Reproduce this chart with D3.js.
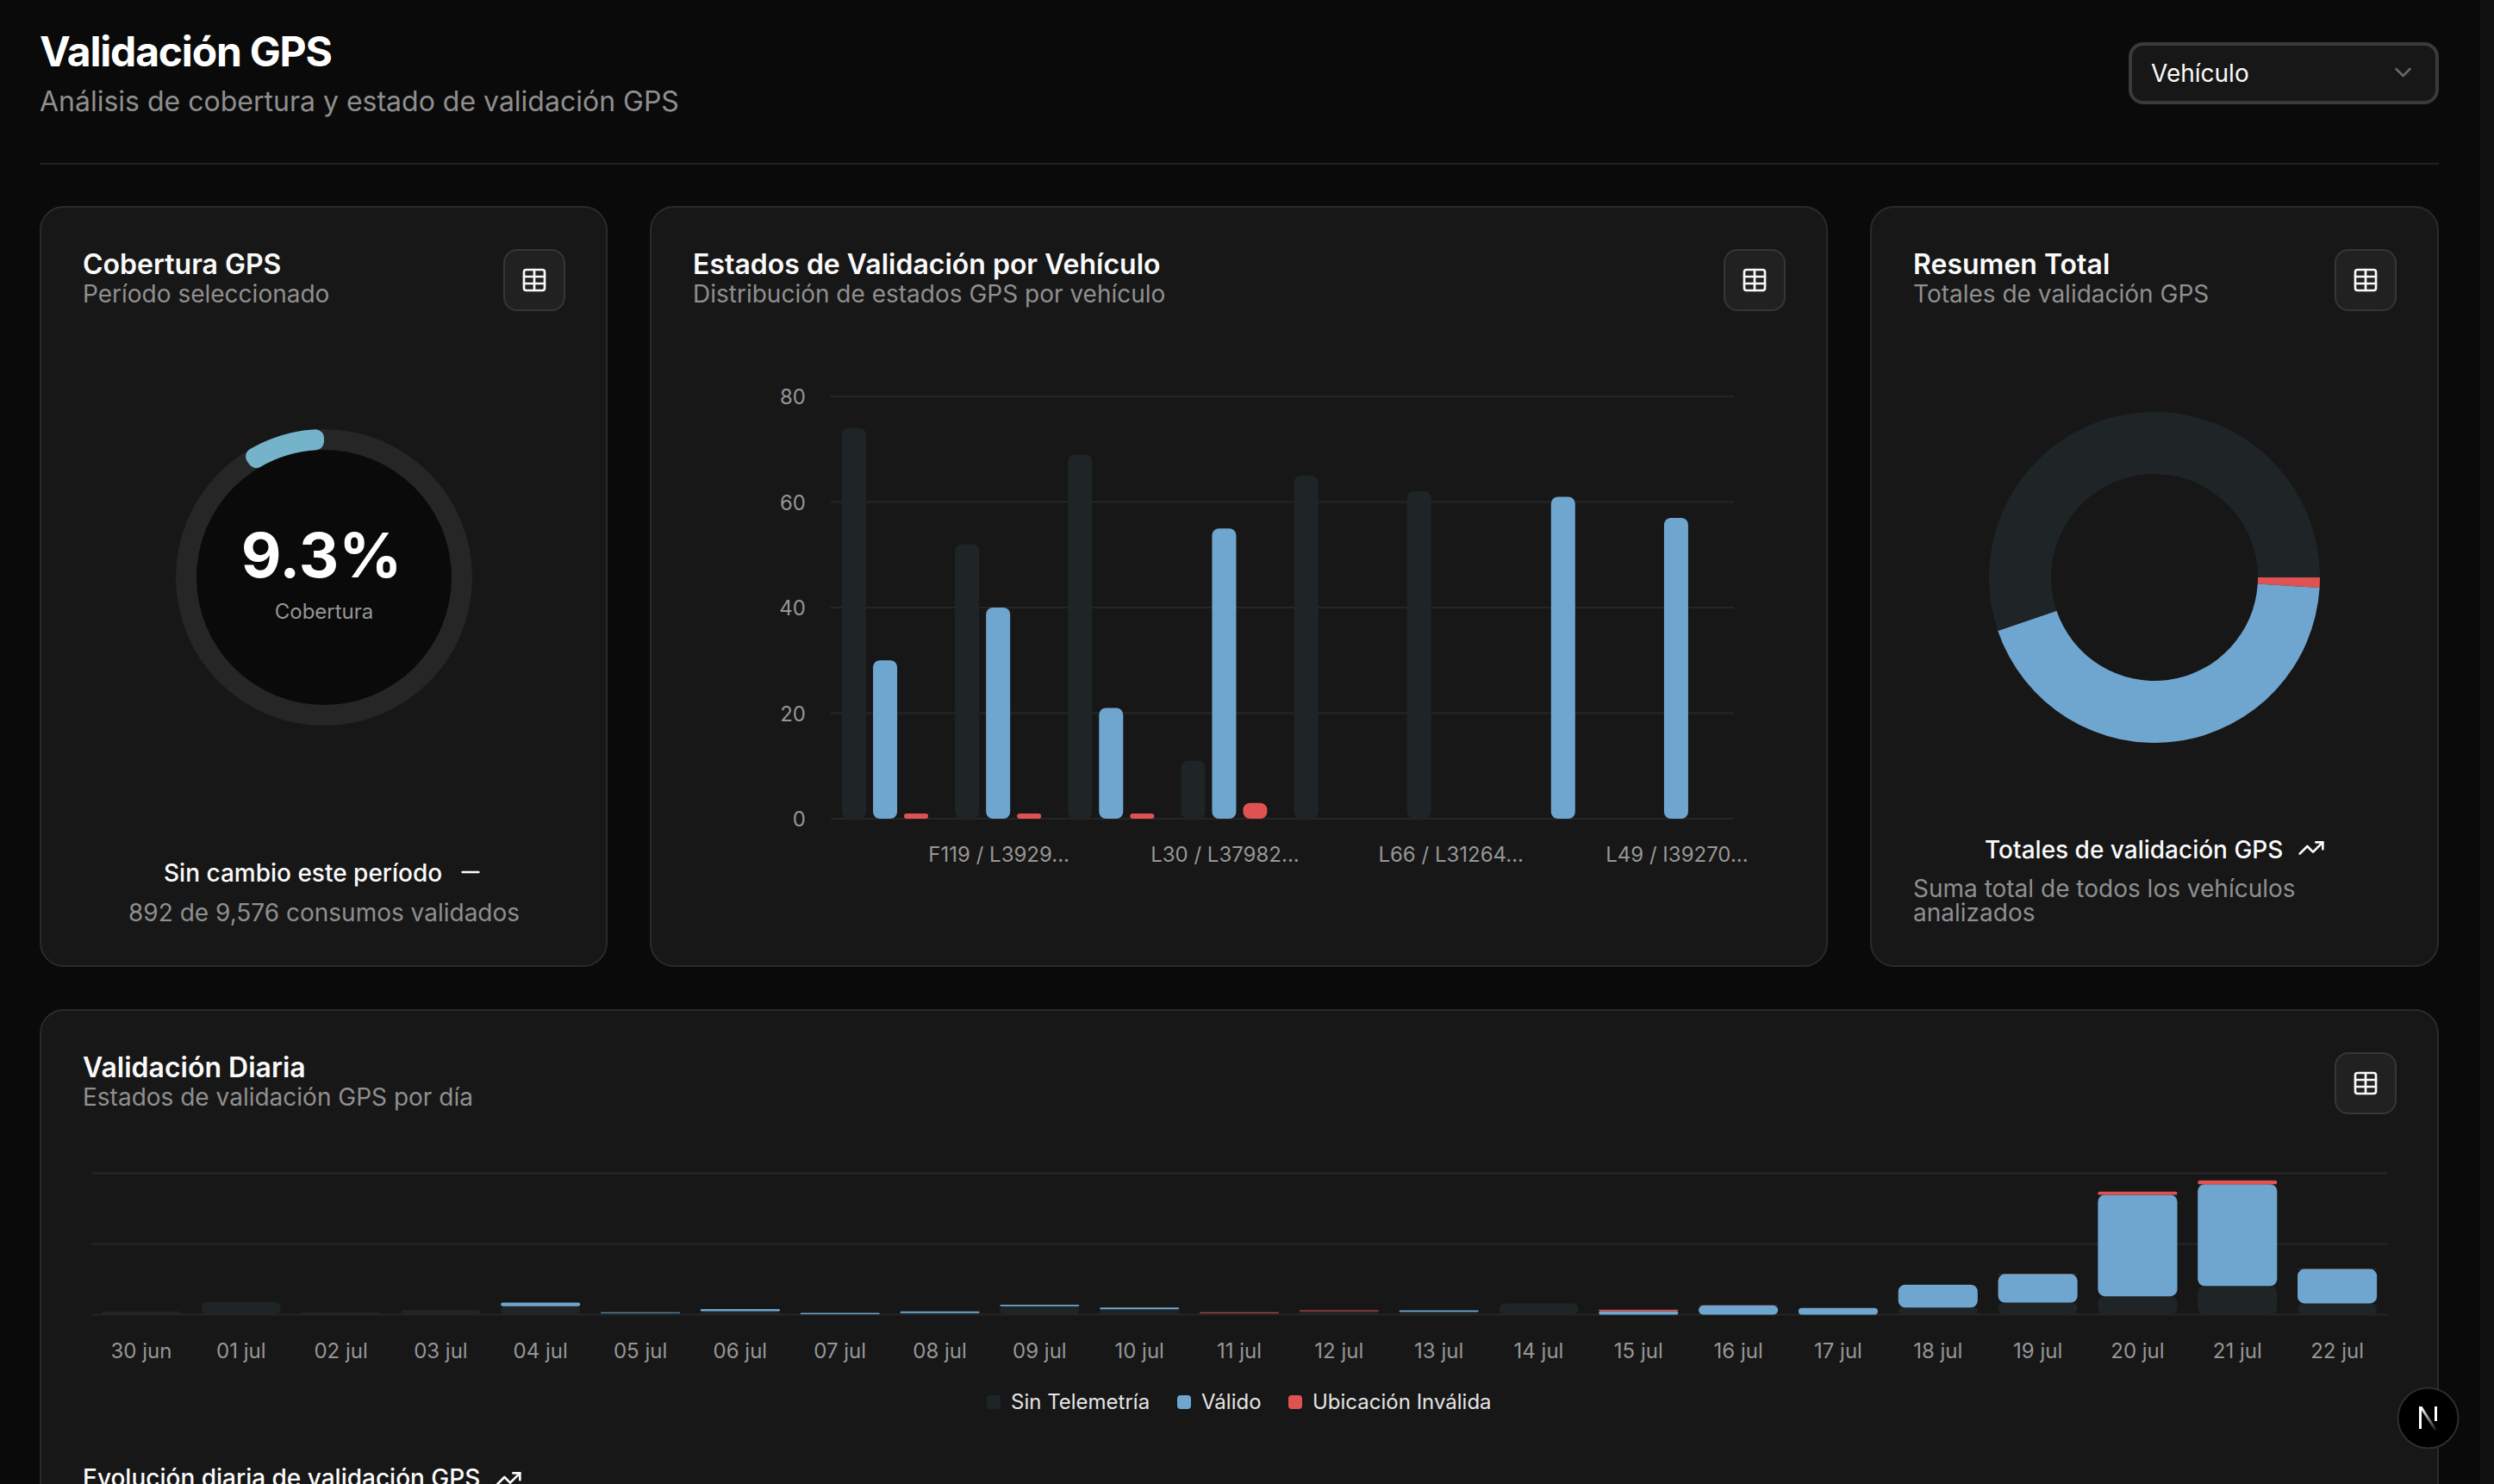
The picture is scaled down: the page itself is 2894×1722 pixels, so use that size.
<!DOCTYPE html>
<html lang="es">
<head>
<meta charset="utf-8">
<title>Validación GPS</title>
<script src="https://cdn.jsdelivr.net/npm/d3@7"></script>
<style>
  html, body { margin: 0; padding: 0; background: #0a0a0a; overflow: hidden; }
  svg { display: block; }
  text { font-family: Inter, "Noto Sans", sans-serif; }
</style>
</head>
<body>
<div id="chart"></div>
<script>
// data
const vehicles = ["", "F119 / L3929...", "", "L30 / L37982...", "", "L66 / L31264...", "", "L49 / I39270..."];
const vehicleSinTelemetria = [74, 52, 69, 11, 65, 62, 0, 0];
const vehicleValido = [30, 40, 21, 55, 0, 0, 61, 57];
const vehicleInvalida = [1, 1, 1, 3, 0, 0, 0, 0];
const vehicleTicks = [0, 20, 40, 60, 80];

const days = ["30 jun", "01 jul", "02 jul", "03 jul", "04 jul", "05 jul", "06 jul", "07 jul", "08 jul", "09 jul", "10 jul", "11 jul",
    "12 jul", "13 jul", "14 jul", "15 jul", "16 jul", "17 jul", "18 jul", "19 jul", "20 jul", "21 jul", "22 jul"];
const daySinTelemetria = [9, 36, 7, 13, 24, 4, 10, 1, 4, 24, 15, 4, 10, 8, 32, 0, 0, 0, 20, 34, 52, 81, 32];
const dayValido = [0, 0, 0, 0, 10, 3, 6, 4, 5, 4, 5, 0, 0, 4, 0, 10, 26, 19, 65, 81, 287, 288, 97];
const dayInvalida = [0, 0, 0, 0, 0, 0, 0, 0, 0, 0, 0, 3, 2, 0, 0, 4, 1, 0, 0, 1, 9, 11, 1];
const dayTicks = [0, 200, 400];

const coverage = 9.3;
const validated = 892;
const consumed = 9576;

const colors = { gray: "#1f2427", blue: "#6fa6cf", red: "#e05252", teal: "#75b3cb" };
const muted = "#8f8f8f";
const axisColor = "#969696";
const gridColor = "#262626";

const width = 2894, height = 1722;

const svg = d3.select("#chart").append("svg")
    .attr("width", width)
    .attr("height", height)
    .attr("viewBox", [0, 0, width, height]);

svg.append("rect").attr("width", width).attr("height", height).attr("fill", "#0a0a0a");
svg.append("rect").attr("x", 2878).attr("width", 16).attr("height", height).attr("fill", "#111111");

function label(x, y, str, size, fill, weight, anchor, spacing) {
    return svg.append("text")
        .attr("x", x).attr("y", y)
        .attr("font-size", size)
        .attr("font-weight", weight || 400)
        .attr("fill", fill)
        .attr("text-anchor", anchor || "start")
        .attr("letter-spacing", spacing || 0)
        .text(str);
}

// lucide style icons, 24 unit box drawn at 32px
function icon(x, y, paths, stroke, strokeWidth) {
    const g = svg.append("g")
        .attr("transform", `translate(${x},${y}) scale(1.3333)`)
        .attr("fill", "none")
        .attr("stroke", stroke)
        .attr("stroke-width", strokeWidth || 2)
        .attr("stroke-linecap", "round")
        .attr("stroke-linejoin", "round");
    paths.forEach(d => g.append("path").attr("d", d));
}

function card(x, y, w, h, title, sub, titleY, subY) {
    svg.append("rect")
        .attr("x", x + 1).attr("y", y + 1)
        .attr("width", w - 2).attr("height", h - 2)
        .attr("rx", 27)
        .attr("fill", "#171717")
        .attr("stroke", "#2a2a2a")
        .attr("stroke-width", 2);
    label(x + 50, titleY, title, 32, "#fafafa", 600);
    label(x + 50, subY, sub, 28, muted, 400);

    // table button
    const bx = x + w - 121, by = y + 50;
    svg.append("rect")
        .attr("x", bx + 1).attr("y", by + 1)
        .attr("width", 70).attr("height", 70)
        .attr("rx", 15)
        .attr("fill", "#212121")
        .attr("stroke", "#363636")
        .attr("stroke-width", 2);
    icon(bx + 20, by + 20, ["M5 3h14a2 2 0 0 1 2 2v14a2 2 0 0 1-2 2H5a2 2 0 0 1-2-2V5a2 2 0 0 1 2-2z", "M12 3v18", "M3 9h18", "M3 15h18"], "#fafafa");
}

function roundedBars(group, rows) {
    group.selectAll(null)
        .data(rows)
        .join("rect")
        .attr("x", d => d.x)
        .attr("y", d => d.y)
        .attr("width", d => d.w)
        .attr("height", d => d.h)
        .attr("rx", d => Math.min(8, d.h / 2))
        .attr("fill", d => d.fill);
}

function cleanAxis(g) {
    g.select(".domain").remove();
    g.selectAll(".tick line").remove();
    g.selectAll("text")
        .attr("font-size", 24)
        .attr("font-family", "Inter, sans-serif")
        .attr("fill", axisColor);
}

// header
label(46, 77, "Validación GPS", 48, "#ffffff", 700, "start", -1.2);
label(46, 129, "Análisis de cobertura y estado de validación GPS", 32, muted, 400);
svg.append("rect").attr("x", 46).attr("y", 189).attr("width", 2784).attr("height", 2).attr("fill", "#222222");

// vehicle select
svg.append("rect")
    .attr("x", 2472).attr("y", 51)
    .attr("width", 356).attr("height", 68)
    .attr("rx", 15)
    .attr("fill", "#171717")
    .attr("stroke", "#3a3a3a")
    .attr("stroke-width", 4);
label(2496, 95, "Vehículo", 28, "#fafafa", 400);
icon(2772.5, 68, ["M6 9l6 6 6-6"], "#666666");

// cards
card(46, 239, 659, 883, "Cobertura GPS", "Período seleccionado", 317.5, 351);
card(754, 239, 1367, 883, "Estados de Validación por Vehículo", "Distribución de estados GPS por vehículo", 317.5, 351);
card(2170, 239, 660, 883, "Resumen Total", "Totales de validación GPS", 317.5, 351);
card(46, 1171, 2784, 700, "Validación Diaria", "Estados de validación GPS por día", 1249.5, 1283);

// coverage gauge
const gaugeCenter = [376, 670];
const gaugeAngle = d3.scaleLinear().domain([0, 100]).range([0, -2 * Math.PI]);
const gauge = svg.append("g").attr("transform", `translate(${gaugeCenter})`);
gauge.append("circle").attr("r", 172).attr("fill", "#262626");
gauge.append("circle").attr("r", 148).attr("fill", "#0a0a0a");
gauge.append("path")
    .attr("d", d3.arc()
        .innerRadius(148)
        .outerRadius(172)
        .cornerRadius(10)
        .startAngle(gaugeAngle(0))
        .endAngle(gaugeAngle(coverage))())
    .attr("fill", colors.teal);
label(373, 670, coverage + "%", 72, "#ffffff", 700, "middle");
label(376, 718, "Cobertura", 24, axisColor, 400, "middle");

label(190, 1023, "Sin cambio este período", 28, "#fafafa", 500);
icon(530, 996, ["M5 12h14"], "#fafafa");
label(149, 1069, `${validated} de ${d3.format(",")(consumed)} consumos validados`, 28, muted, 400);

// bars per vehicle
const vehicleX = d3.scaleBand().domain(d3.range(vehicles.length)).range([961.5, 2010.5]);
const vehicleKeys = ["gray", "blue", "red"];
const vehicleInner = d3.scaleBand().domain(vehicleKeys).range([-54, 54]).paddingInner(0.222).paddingOuter(0.111);
const vehicleY = d3.scaleLinear().domain([0, 80]).range([950, 460]);

svg.append("g").selectAll(null)
    .data(vehicleTicks)
    .join("line")
    .attr("x1", 964).attr("x2", 2012)
    .attr("y1", d => vehicleY(d)).attr("y2", d => vehicleY(d))
    .attr("stroke", gridColor).attr("stroke-width", 2);

svg.append("g")
    .attr("transform", "translate(947,1)")
    .call(d3.axisLeft(vehicleY).tickValues(vehicleTicks).tickSize(0).tickPadding(12))
    .call(cleanAxis);

svg.append("g")
    .attr("transform", "translate(1,971)")
    .call(d3.axisBottom(vehicleX).tickSize(0).tickPadding(12).tickFormat(i => vehicles[i]))
    .call(cleanAxis);

const vehicleRows = [];
vehicles.forEach((v, i) => {
    [vehicleSinTelemetria[i], vehicleValido[i], vehicleInvalida[i]].forEach((value, k) => {
        if (!value) return;
        vehicleRows.push({
            x: vehicleX(i) + vehicleX.bandwidth() / 2 + vehicleInner(vehicleKeys[k]),
            y: vehicleY(value),
            w: vehicleInner.bandwidth(),
            h: vehicleY(0) - vehicleY(value),
            fill: colors[vehicleKeys[k]]
        });
    });
});
roundedBars(svg.append("g"), vehicleRows);

// totals donut, same sums as the vehicle chart
const totals = [
    { value: d3.sum(vehicleInvalida), fill: colors.red },
    { value: d3.sum(vehicleValido), fill: colors.blue },
    { value: d3.sum(vehicleSinTelemetria), fill: colors.gray }
];
const pie = d3.pie().sort(null).value(d => d.value).startAngle(Math.PI / 2).endAngle(Math.PI / 2 + 2 * Math.PI);
const donutArc = d3.arc().innerRadius(120).outerRadius(192);
svg.append("g")
    .attr("transform", "translate(2500,670)")
    .selectAll(null)
    .data(pie(totals))
    .join("path")
    .attr("d", donutArc)
    .attr("fill", d => d.data.fill);

const trending = ["M22 7l-8.5 8.5-5-5L2 17", "M16 7h6v6"];
label(2303, 995.5, "Totales de validación GPS", 28, "#fafafa", 500);
icon(2666, 968, trending, "#fafafa");
label(2220, 1041, "Suma total de todos los vehículos", 28, muted, 400);
label(2220, 1069, "analizados", 28, muted, 400);

// daily stacked bars
const dayX = d3.scaleBand().domain(days).range([106, 2770]).paddingInner(0.205).paddingOuter(0.1025);
const dayY = d3.scaleLinear().domain([0, 400]).range([1525.5, 1361.5]);

svg.append("g").selectAll(null)
    .data(dayTicks)
    .join("line")
    .attr("x1", 106).attr("x2", 2770)
    .attr("y1", d => dayY(d)).attr("y2", d => dayY(d))
    .attr("stroke", gridColor).attr("stroke-width", 2);

svg.append("g")
    .attr("transform", "translate(0,1547)")
    .call(d3.axisBottom(dayX).tickSize(0).tickPadding(12))
    .call(cleanAxis);

const dayRows = days.map((day, i) => ({
    day,
    gray: daySinTelemetria[i],
    blue: dayValido[i],
    red: dayInvalida[i]
}));
const stack = d3.stack().keys(["gray", "blue", "red"]);
const stackRows = [];
stack(dayRows).forEach(layer => {
    layer.forEach(d => {
        if (d[1] === d[0]) return;
        stackRows.push({
            x: dayX(d.data.day),
            y: dayY(d[1]),
            w: dayX.bandwidth(),
            h: dayY(d[0]) - dayY(d[1]),
            fill: colors[layer.key]
        });
    });
});
roundedBars(svg.append("g"), stackRows);

// legend
const legendItems = [
    { name: "Sin Telemetría", fill: colors.gray, x: 1145 },
    { name: "Válido", fill: colors.blue, x: 1366 },
    { name: "Ubicación Inválida", fill: colors.red, x: 1495 }
];
legendItems.forEach(d => {
    svg.append("rect")
        .attr("x", d.x).attr("y", 1619)
        .attr("width", 16).attr("height", 16)
        .attr("rx", 4)
        .attr("fill", d.fill);
    label(d.x + 28, 1635, d.name, 24, "#e5e5e5", 400);
});

label(96, 1725, "Evolución diaria de validación GPS", 28, "#fafafa", 500);
icon(574, 1700, trending, "#fafafa");

// dev badge
const defs = svg.append("defs");
const fade = defs.append("linearGradient")
    .attr("id", "fade")
    .attr("gradientUnits", "userSpaceOnUse")
    .attr("x1", 2812).attr("y1", 1632)
    .attr("x2", 2830).attr("y2", 1660);
fade.append("stop").attr("offset", 0).attr("stop-color", "#ffffff");
fade.append("stop").attr("offset", 1).attr("stop-color", "#ffffff").attr("stop-opacity", 0);
svg.append("circle")
    .attr("cx", 2817.5).attr("cy", 1645.5).attr("r", 35)
    .attr("fill", "#000000")
    .attr("stroke", "#2e2e2e")
    .attr("stroke-width", 2);
svg.append("path").attr("d", "M2807 1632h3v26h-3z").attr("fill", "#ffffff");
svg.append("path").attr("d", "M2807 1632h3.5l18 28h-3.5z").attr("fill", "url(#fade)");
svg.append("path").attr("d", "M2825 1632h3v17h-3z").attr("fill", "#ffffff");
</script>
</body>
</html>
